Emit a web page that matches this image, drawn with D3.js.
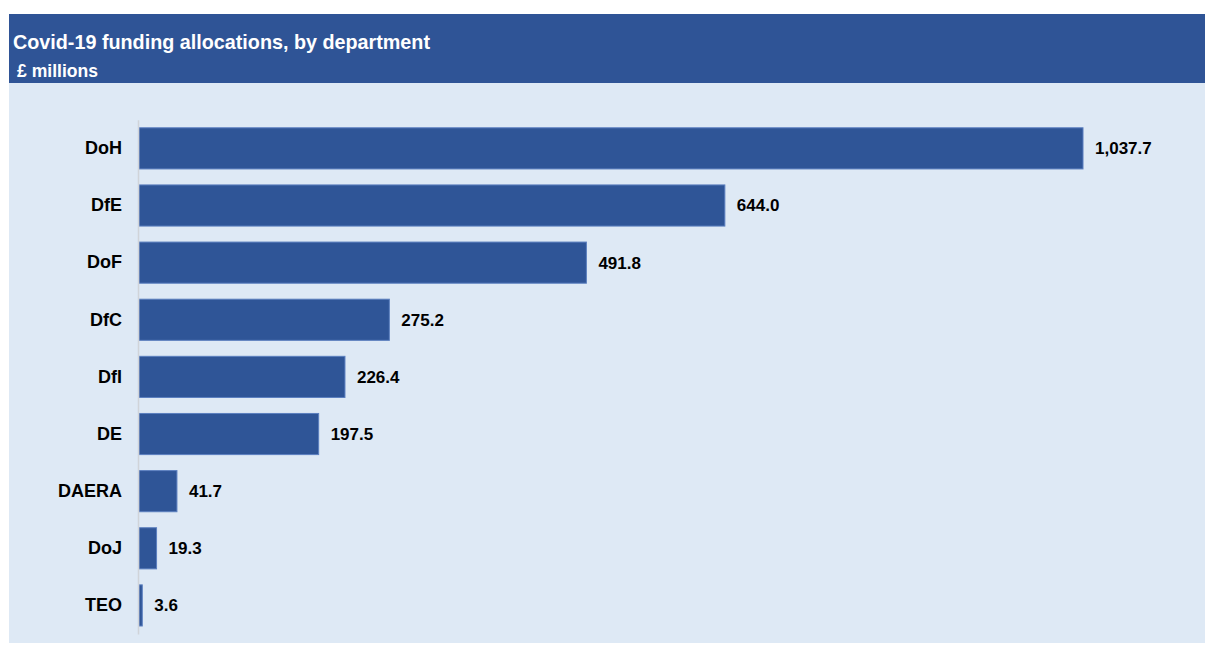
<!DOCTYPE html>
<html>
<head>
<meta charset="utf-8">
<script src="https://cdn.jsdelivr.net/npm/d3@7"></script>
<style>
  html, body { margin: 0; padding: 0; background: #ffffff; }
  svg { display: block; font-family: "Liberation Sans", Arial, sans-serif; }
</style>
</head>
<body>
<svg id="chart" width="1205" height="645"></svg>
<script>
// Covid-19 funding allocations by department (£ millions)
const departments = ["DoH", "DfE", "DoF", "DfC", "DfI", "DE", "DAERA", "DoJ", "TEO"];
const allocations = [1037.7, 644.0, 491.8, 275.2, 226.4, 197.5, 41.7, 19.3, 3.6];
const titleText = "Covid-19 funding allocations, by department";
const unitText = "£ millions";

const svg = d3.select("#chart");

// Header band and chart panel
svg.append("rect").attr("x", 9).attr("y", 14).attr("width", 1196).attr("height", 69)
  .attr("fill", "#2f5496");
svg.append("rect").attr("x", 9).attr("y", 83).attr("width", 1196).attr("height", 560)
  .attr("fill", "#dee9f5");

svg.append("text").attr("x", 13).attr("y", 49)
  .attr("fill", "#ffffff").attr("font-size", 21).attr("font-weight", "bold")
  .attr("textLength", 417).attr("lengthAdjust", "spacingAndGlyphs")
  .text(titleText);
svg.append("text").attr("x", 17).attr("y", 77)
  .attr("fill", "#ffffff").attr("font-size", 18).attr("font-weight", "bold")
  .attr("textLength", 81).attr("lengthAdjust", "spacingAndGlyphs")
  .text(unitText);

// Scales
const x0 = 139;
const x = d3.scaleLinear().domain([0, 1037.7]).range([x0, 1083]);
const y = d3.scaleBand().domain(departments).range([119.8, 634])
  .paddingInner(0.28).paddingOuter(0.14);

const data = departments.map((d, i) => ({ dept: d, value: allocations[i] }));

// Bars
svg.append("g").selectAll("rect").data(data).join("rect")
  .attr("x", x(0))
  .attr("y", d => y(d.dept))
  .attr("width", d => x(d.value) - x(0))
  .attr("height", y.bandwidth())
  .attr("fill", "#2f5597")
  .attr("stroke", "#5b7fbf")
  .attr("stroke-width", 1);

// Category axis (vertical baseline and labels)
const yAxis = d3.axisLeft(y).tickSize(0).tickPadding(16);
const gAxis = svg.append("g").attr("transform", `translate(${x0 - 1},0)`).call(yAxis);
gAxis.select(".domain").attr("stroke", "#d0d4d9").attr("stroke-width", 1.5);
gAxis.selectAll("text")
  .attr("font-family", "Liberation Sans, Arial, sans-serif")
  .attr("font-size", 18).attr("font-weight", "bold").attr("fill", "#000000");

// Value labels
const fmt = d3.format(",.1f");
svg.append("g").selectAll("text").data(data).join("text")
  .attr("x", d => x(d.value) + 12)
  .attr("y", d => y(d.dept) + y.bandwidth() / 2)
  .attr("dy", "0.35em")
  .attr("font-size", 17).attr("font-weight", "bold").attr("fill", "#000000")
  .text(d => fmt(d.value));
</script>
</body>
</html>
